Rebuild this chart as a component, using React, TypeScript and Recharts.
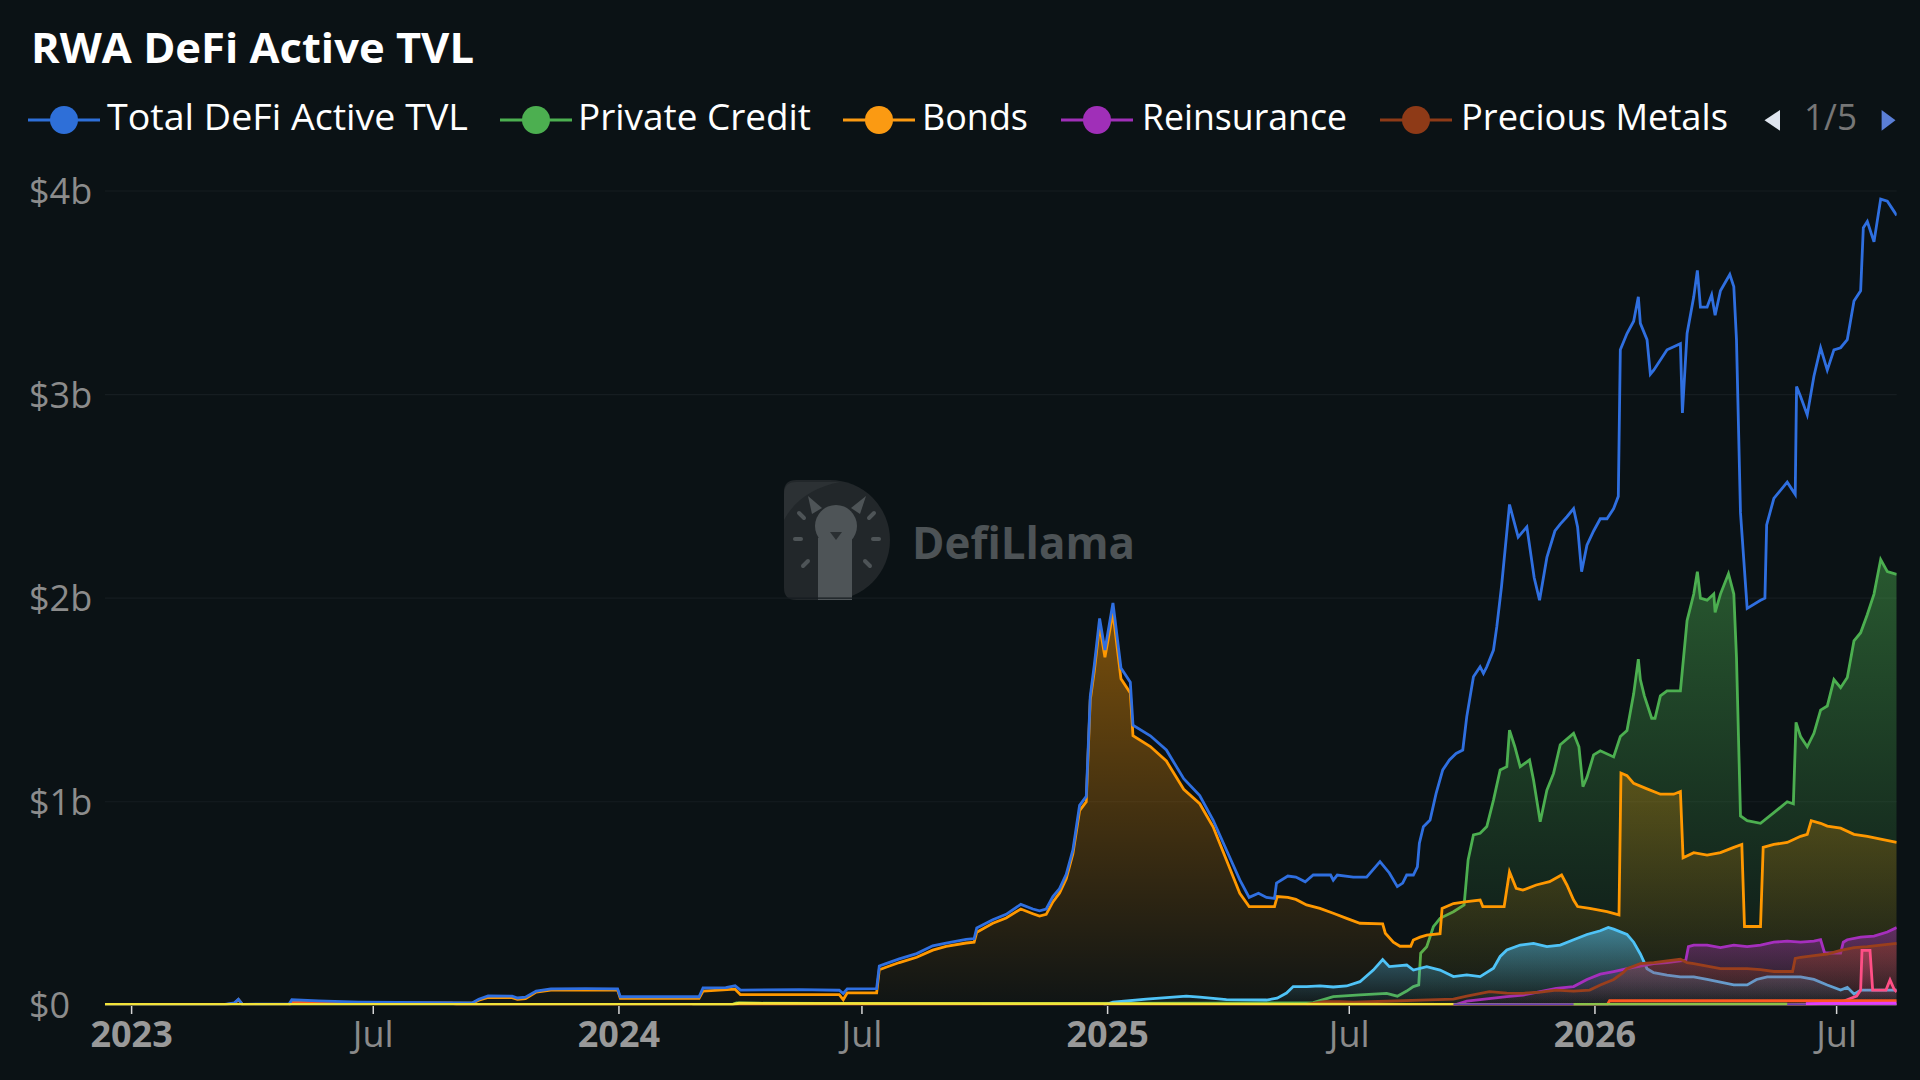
import React from 'react';
import { ComposedChart, Area, Line, XAxis, YAxis, CartesianGrid } from 'recharts';

// points are [days since 2023-01-01, value in $b]
type Pt = [number, number];

const totalTvl: Pt[] = [
  [-20, 0.003], [70, 0.004], [77, 0.012], [80, 0.03], [83, 0.005], [118, 0.006], [120, 0.027], [140, 0.022],
  [170, 0.016], [200, 0.014], [255, 0.012], [260, 0.03], [267, 0.046], [285, 0.045], [289, 0.036], [295, 0.04],
  [303, 0.07], [314, 0.081], [340, 0.082], [364, 0.081], [366, 0.042], [425, 0.042], [428, 0.085], [445, 0.087],
  [452, 0.096], [456, 0.075], [500, 0.077], [530, 0.074], [533, 0.058], [536, 0.081], [558, 0.082], [560, 0.193],
  [565, 0.205], [575, 0.228], [588, 0.254], [600, 0.292], [610, 0.306], [625, 0.324], [631, 0.327], [633, 0.38],
  [645, 0.42], [655, 0.447], [666, 0.496], [675, 0.473], [680, 0.464], [685, 0.473], [690, 0.534], [695, 0.573],
  [700, 0.643], [705, 0.763], [710, 0.982], [715, 1.026], [718, 1.517], [721, 1.67], [725, 1.9], [729, 1.745],
  [735, 1.976], [741, 1.657], [748, 1.587], [750, 1.376], [763, 1.324], [775, 1.254], [788, 1.113], [800, 1.03],
  [810, 0.91], [820, 0.763], [830, 0.616], [837, 0.53], [844, 0.55], [850, 0.53], [856, 0.525], [857.5, 0.6],
  [866, 0.635], [872, 0.63], [879, 0.607], [885, 0.64], [898, 0.64], [900, 0.615], [903, 0.64], [915, 0.63],
  [925, 0.63], [935, 0.706], [942, 0.65], [948, 0.583], [952, 0.6], [955, 0.64], [960, 0.64], [963, 0.68],
  [964.5, 0.796], [967.5, 0.877], [972.5, 0.91], [977, 1.04], [982, 1.156], [987, 1.205], [992, 1.237], [997, 1.254],
  [1000, 1.418], [1005, 1.614], [1010, 1.663], [1012.5, 1.63], [1015, 1.663], [1020, 1.745], [1022.5, 1.86],
  [1026, 2.056], [1032, 2.46], [1038.5, 2.3], [1045, 2.35], [1050.5, 2.1], [1054.5, 1.99], [1060, 2.2], [1066, 2.33],
  [1070, 2.364], [1075, 2.4], [1080, 2.44], [1083, 2.35], [1086, 2.13], [1090, 2.26], [1095, 2.33], [1100, 2.39],
  [1105, 2.39], [1110, 2.44], [1113.5, 2.5], [1115, 3.22], [1120, 3.3], [1125, 3.36], [1128.5, 3.48], [1130, 3.35],
  [1135, 3.27], [1137.5, 3.1], [1140, 3.12], [1150, 3.22], [1160, 3.25], [1161.5, 2.91], [1165, 3.3], [1170, 3.48],
  [1172.7, 3.61], [1175, 3.43], [1180, 3.43], [1183.4, 3.49], [1186, 3.39], [1190, 3.51], [1197, 3.59], [1200, 3.53],
  [1202, 3.27], [1205, 2.42], [1210, 1.95], [1220, 1.99], [1223.3, 2.0], [1224.6, 2.36], [1230, 2.49], [1240, 2.57],
  [1246, 2.51], [1247, 3.04], [1250, 2.99], [1255, 2.9], [1260, 3.09], [1265, 3.23], [1270, 3.12], [1275, 3.22],
  [1280, 3.23], [1285, 3.27], [1290, 3.46], [1295, 3.51], [1297, 3.82], [1300, 3.85], [1305, 3.75], [1310, 3.96],
  [1315, 3.95], [1320, 3.9], [1322, 3.88],
];

const privateCredit: Pt[] = [
  [420, 0.0], [450, 0.004], [453, 0.012], [470, 0.01], [560, 0.008], [700, 0.009], [800, 0.01], [880, 0.012],
  [885, 0.013], [900, 0.043], [920, 0.051], [940, 0.059], [948, 0.045], [955, 0.07], [960, 0.092], [964, 0.1],
  [965.5, 0.256], [970, 0.288], [975, 0.386], [980, 0.427], [990, 0.46], [998, 0.493], [1001, 0.714], [1005, 0.837],
  [1010, 0.845], [1015, 0.878], [1020, 1.008], [1025, 1.156], [1030, 1.172], [1032, 1.352], [1036, 1.27],
  [1040, 1.172], [1047, 1.205], [1050, 1.107], [1055, 0.902], [1060, 1.057], [1065, 1.139], [1070, 1.28],
  [1080, 1.336], [1084, 1.27], [1087, 1.074], [1090, 1.12], [1095, 1.23], [1100, 1.25], [1110, 1.22], [1115, 1.32],
  [1120, 1.35], [1125, 1.53], [1128.5, 1.7], [1130, 1.6], [1133, 1.52], [1138.5, 1.41], [1141, 1.41], [1145, 1.52],
  [1150, 1.545], [1160, 1.545], [1165, 1.89], [1170, 2.02], [1172.7, 2.13], [1175, 2.0], [1180, 1.99], [1185, 2.02],
  [1186, 1.93], [1190, 2.02], [1196, 2.12], [1200, 2.02], [1202, 1.71], [1205, 0.93], [1210, 0.907], [1220, 0.894],
  [1230, 0.946], [1240, 1.0], [1244.6, 0.99], [1246.6, 1.39], [1250, 1.32], [1255, 1.27], [1260, 1.336],
  [1265, 1.45], [1270, 1.47], [1275, 1.6], [1280, 1.56], [1285, 1.61], [1290, 1.79], [1295, 1.83], [1300, 1.92],
  [1305, 2.02], [1310, 2.19], [1315, 2.13], [1322, 2.117],
];

const bonds: Pt[] = [
  [-20, 0.002], [70, 0.003], [77, 0.01], [80, 0.028], [83, 0.004], [118, 0.005], [120, 0.018], [140, 0.015],
  [170, 0.012], [200, 0.011], [255, 0.01], [260, 0.025], [267, 0.039], [285, 0.038], [289, 0.029], [295, 0.033],
  [303, 0.065], [314, 0.075], [364, 0.075], [366, 0.034], [425, 0.034], [428, 0.07], [452, 0.079], [456, 0.052],
  [530, 0.052], [533, 0.027], [536, 0.061], [558, 0.061], [560, 0.175], [565, 0.187], [575, 0.21], [588, 0.236],
  [600, 0.271], [610, 0.289], [625, 0.306], [631, 0.31], [633, 0.359], [645, 0.403], [655, 0.429], [666, 0.473],
  [675, 0.45], [680, 0.438], [685, 0.447], [690, 0.508], [695, 0.552], [700, 0.622], [705, 0.745], [710, 0.956],
  [715, 1.0], [718, 1.5], [721, 1.64], [725, 1.867], [729, 1.71], [735, 1.929], [741, 1.604], [748, 1.534],
  [750, 1.324], [763, 1.271], [775, 1.2], [788, 1.061], [800, 0.99], [810, 0.877], [820, 0.714], [830, 0.55],
  [837, 0.485], [856, 0.485], [858, 0.534], [866, 0.53], [872, 0.52], [880, 0.493], [890, 0.476], [900, 0.452],
  [910, 0.427], [920, 0.403], [937, 0.4], [939, 0.354], [945, 0.31], [950, 0.29], [958, 0.29], [960, 0.321],
  [965, 0.335], [970, 0.345], [980, 0.352], [981.5, 0.476], [990, 0.5], [1000, 0.509], [1010, 0.517], [1012, 0.485],
  [1028, 0.485], [1032, 0.656], [1037, 0.575], [1042, 0.566], [1052, 0.591], [1062, 0.607], [1071, 0.64],
  [1075, 0.591], [1080, 0.517], [1083, 0.485], [1092, 0.476], [1105, 0.46], [1114, 0.444], [1115.5, 1.141],
  [1120, 1.128], [1125, 1.09], [1135, 1.063], [1145, 1.037], [1155, 1.037], [1160, 1.05], [1162, 0.725],
  [1170, 0.75], [1180, 0.738], [1190, 0.75], [1200, 0.776], [1206, 0.79], [1208, 0.387], [1220, 0.387],
  [1222, 0.776], [1230, 0.79], [1240, 0.8], [1250, 0.83], [1255, 0.84], [1258, 0.907], [1265, 0.894], [1270, 0.88],
  [1280, 0.87], [1290, 0.84], [1300, 0.83], [1310, 0.816], [1322, 0.8],
];

const reinsurance: Pt[] = [
  [990, 0.0], [1000, 0.02], [1030, 0.043], [1042, 0.05], [1055, 0.067], [1067, 0.083], [1080, 0.092],
  [1090, 0.127], [1100, 0.153], [1110, 0.166], [1120, 0.18], [1130, 0.192], [1140, 0.205], [1150, 0.21],
  [1160, 0.218], [1164, 0.22], [1166, 0.288], [1170, 0.296], [1180, 0.296], [1190, 0.283], [1200, 0.296],
  [1210, 0.288], [1220, 0.296], [1230, 0.31], [1240, 0.315], [1250, 0.31], [1260, 0.315], [1265, 0.322],
  [1268, 0.257], [1280, 0.257], [1282, 0.31], [1285, 0.322], [1295, 0.335], [1305, 0.34], [1315, 0.36],
  [1322, 0.382],
];

const preciousMetals: Pt[] = [
  [880, 0.005], [893, 0.018], [905, 0.018], [915, 0.015], [990, 0.03], [1000, 0.045], [1017, 0.067], [1030, 0.06],
  [1042, 0.059], [1055, 0.065], [1067, 0.075], [1080, 0.07], [1092, 0.075], [1100, 0.1], [1110, 0.127],
  [1117, 0.16], [1120, 0.18], [1130, 0.205], [1140, 0.21], [1150, 0.218], [1160, 0.226], [1165, 0.21],
  [1170, 0.205], [1180, 0.192], [1190, 0.18], [1210, 0.18], [1220, 0.175], [1230, 0.166], [1244, 0.166],
  [1246, 0.23], [1250, 0.236], [1260, 0.244], [1270, 0.252], [1280, 0.27], [1290, 0.283], [1300, 0.288],
  [1310, 0.296], [1322, 0.304],
];

// series from the hidden legend pages (2/5 .. 5/5), named by colour
const cyanSeries: Pt[] = [
  [728, 0.0], [735, 0.015], [760, 0.03], [790, 0.045], [800, 0.04], [820, 0.028], [850, 0.026], [858, 0.035],
  [865, 0.06], [870, 0.092], [880, 0.092], [890, 0.095], [900, 0.09], [910, 0.095], [920, 0.116], [930, 0.173],
  [937, 0.225], [942, 0.19], [950, 0.195], [955, 0.198], [960, 0.173], [970, 0.19], [980, 0.173], [990, 0.141],
  [1000, 0.149], [1010, 0.141], [1020, 0.182], [1025, 0.24], [1030, 0.272], [1040, 0.296], [1050, 0.304],
  [1060, 0.288], [1070, 0.296], [1080, 0.322], [1090, 0.348], [1100, 0.366], [1106, 0.382], [1110, 0.374],
  [1120, 0.348], [1125, 0.31], [1130, 0.252], [1135, 0.18], [1140, 0.16], [1150, 0.148], [1160, 0.14],
  [1170, 0.14], [1180, 0.127], [1190, 0.114], [1200, 0.1], [1210, 0.1], [1217, 0.127], [1225, 0.14], [1250, 0.14],
  [1260, 0.127], [1270, 0.1], [1280, 0.075], [1285, 0.088], [1290, 0.055], [1295, 0.075], [1322, 0.075],
];

const pinkSeries: Pt[] = [
  [1240, 0.0], [1270, 0.01], [1282, 0.02], [1292, 0.045], [1295, 0.075], [1296, 0.27], [1302, 0.27],
  [1304, 0.075], [1314, 0.075], [1317, 0.125], [1320, 0.08], [1322, 0.065],
];

const redSeries: Pt[] = [
  [118, 0.0], [120, 0.012], [240, 0.01], [245, 0.0], [1105, 0.0], [1107, 0.023], [1322, 0.023],
];

const yellowSeries: Pt[] = [
  [-20, 0.004], [450, 0.004], [455, 0.01], [720, 0.008], [990, 0.004], [1322, 0.002],
];

const indigoSeries: Pt[] = [[990, 0.003], [1322, 0.003]];
const magentaSeries: Pt[] = [[1254, 0.008], [1322, 0.01]];
const limeSeries: Pt[] = [[1080, 0.004], [1240, 0.006]];

const tickDays = [0, 181, 365, 547, 731, 912, 1096, 1277];
const tickLabels = ['2023', 'Jul', '2024', 'Jul', '2025', 'Jul', '2026', 'Jul'];
const yTicks = [0, 1, 2, 3, 4];

const FONT = '"Open Sans", "Noto Sans", sans-serif';

type S = { key: string; name: string; color: string; points: Pt[]; area: boolean; top?: number };

const series: S[] = [
  { key: 'total', name: 'Total DeFi Active TVL', color: '#2f6fe0', points: totalTvl, area: false },
  { key: 'pc', name: 'Private Credit', color: '#4caf50', points: privateCredit, area: true, top: 0.45 },
  { key: 'bonds', name: 'Bonds', color: '#ff9800', points: bonds, area: true, top: 0.45 },
  { key: 'cyan', name: 'cyan', color: '#4fc3f7', points: cyanSeries, area: true, top: 0.55 },
  { key: 'rein', name: 'Reinsurance', color: '#a52fbd', points: reinsurance, area: true, top: 0.45 },
  { key: 'pm', name: 'Precious Metals', color: '#9a3f1c', points: preciousMetals, area: true, top: 0.45 },
  { key: 'pink', name: 'pink', color: '#ff4f86', points: pinkSeries, area: true, top: 0.35 },
  { key: 'red', name: 'red', color: '#ff5722', points: redSeries, area: true, top: 0.5 },
  { key: 'yellow', name: 'yellow', color: '#f2e33a', points: yellowSeries, area: false },
  { key: 'indigo', name: 'indigo', color: '#6a3fb5', points: indigoSeries, area: false },
  { key: 'lime', name: 'lime', color: '#8bc34a', points: limeSeries, area: false },
  { key: 'magenta', name: 'magenta', color: '#e040fb', points: magentaSeries, area: false },
];

const legendItems = [
  { name: 'Total DeFi Active TVL', color: '#2e6fd8', icon: 28, text: 107, w: 361 },
  { name: 'Private Credit', color: '#4caf50', icon: 500, text: 578, w: 233 },
  { name: 'Bonds', color: '#fb9a12', icon: 843, text: 922, w: 106 },
  { name: 'Reinsurance', color: '#a02fb8', icon: 1061, text: 1142, w: 205 },
  { name: 'Precious Metals', color: '#8e3a17', icon: 1380, text: 1461, w: 267 },
];

function buildRows() {
  const map = new Map<number, any>();
  for (const s of series) {
    for (const [d, v] of s.points) {
      if (!map.has(d)) map.set(d, { day: d });
      map.get(d)[s.key] = v * 1e9;
    }
  }
  return Array.from(map.values()).sort((a, b) => a.day - b.day);
}

const rows = buildRows();

const YTick = (props: any) => {
  const { y, payload } = props;
  const v = payload.value / 1e9;
  return (
    <text x={29} y={y} dy={13} fill="#8c8c8c" fontSize={36} fontFamily={FONT}>
      {v === 0 ? '$0' : `$${v}b`}
    </text>
  );
};

const XTick = (props: any) => {
  const { x, payload } = props;
  const label = tickLabels[tickDays.indexOf(payload.value)];
  const isYear = label !== 'Jul';
  return (
    <g>
      <line x1={x} x2={x} y1={1006} y2={1014} stroke="#d6d6d6" strokeWidth={1.5} />
      <text
        x={x}
        y={1047}
        textAnchor="middle"
        fontSize={36}
        fontWeight={isYear ? 700 : 400}
        fill={isYear ? '#999999' : '#8a8a8a'}
        fontFamily={FONT}
      >
        {label}
      </text>
    </g>
  );
};

const Watermark = () => (
  <svg width={1920} height={1080} style={{ position: 'absolute', left: 0, top: 0 }}>
    <path d="M796 480 H830 A60 60 0 0 1 830 600 H796 Q784 600 784 588 V492 Q784 480 796 480 Z" fill="#22272a" />
    <path d="M784 520 Q800 490 840 482 H796 Q784 482 784 494 Z" fill="#2c3134" />
    <path d="M812 514 L808 496 L822 508 Z" fill="#4e5457" />
    <path d="M860 514 L866 496 L851 508 Z" fill="#4e5457" />
    <ellipse cx={836} cy={526} rx={21} ry={21} fill="#4e5457" />
    <rect x={818} y={538} width={34} height={62} fill="#4e5457" />
    <path d="M830 532 L842 532 L836 540 Z" fill="#2a2f32" />
    <g stroke="#4e5457" strokeWidth={4} strokeLinecap="round">
      <line x1={799} y1={513} x2={804} y2={518} />
      <line x1={795} y1={539} x2={801} y2={539} />
      <line x1={803} y1={566} x2={808} y2={561} />
      <line x1={874} y1={513} x2={869} y2={518} />
      <line x1={879} y1={539} x2={873} y2={539} />
      <line x1={870} y1={566} x2={865} y2={561} />
    </g>
    <text x={912} y={559} fontSize={44} fontWeight={700} fill="#4d5356" fontFamily={FONT} textLength={223} lengthAdjust="spacingAndGlyphs">
      DefiLlama
    </text>
  </svg>
);

const Header = () => (
  <svg width={1920} height={180} style={{ position: 'absolute', left: 0, top: 0 }}>
    <text x={31} y={63} fontSize={41} fontWeight={700} fill="#ffffff" fontFamily={FONT} textLength={443} lengthAdjust="spacingAndGlyphs">
      RWA DeFi Active TVL
    </text>
    {legendItems.map((it) => (
      <g key={it.name}>
        <line x1={it.icon} x2={it.icon + 72} y1={120} y2={120} stroke={it.color} strokeWidth={3} />
        <circle cx={it.icon + 36} cy={120} r={14} fill={it.color} />
        <text x={it.text} y={130} fontSize={37} fill="#ffffff" fontFamily={FONT} textLength={it.w} lengthAdjust="spacingAndGlyphs">
          {it.name}
        </text>
      </g>
    ))}
    <path d="M1780 110 L1764.5 120.3 L1780 130.7 Z" fill="#dfe5ee" />
    <text x={1804} y={130} fontSize={37} fill="#767676" fontFamily={FONT} textLength={53} lengthAdjust="spacingAndGlyphs">
      1/5
    </text>
    <path d="M1881.6 110 L1895.5 120.3 L1881.6 130.7 Z" fill="#5b7fd6" />
  </svg>
);

export default function App() {
  return (
    <div style={{ position: 'relative', width: 1920, height: 1080, background: '#0b1215', overflow: 'hidden' }}>
      <style>{'body{margin:0;background:#0b1215}'}</style>
      <Watermark />
      <div style={{ position: 'absolute', left: 0, top: 0 }}>
        <ComposedChart width={1920} height={1080} data={rows} margin={{ top: 191, right: 23.3, bottom: 0, left: 0 }}>
          <defs>
            {series.filter((s) => s.area).map((s) => (
              <linearGradient key={s.key} id={`g-${s.key}`} x1="0" y1="0" x2="0" y2="1">
                <stop offset="0%" stopColor={s.color} stopOpacity={s.top} />
                <stop offset="100%" stopColor={s.color} stopOpacity={0.02} />
              </linearGradient>
            ))}
          </defs>
          <CartesianGrid vertical={false} stroke="#161d21" strokeWidth={1.2} />
          <XAxis
            type="number"
            dataKey="day"
            domain={[-20, 1322]}
            ticks={tickDays}
            interval={0}
            height={74.7}
            axisLine={false}
            tickLine={false}
            tick={<XTick />}
            allowDataOverflow
          />
          <YAxis
            domain={[0, 4e9]}
            ticks={yTicks.map((t) => t * 1e9)}
            interval={0}
            width={104.9}
            axisLine={false}
            tickLine={false}
            tick={<YTick />}
            allowDataOverflow
          />
          {series.map((s) =>
            s.area ? (
              <Area
                key={s.key}
                type="linear"
                dataKey={s.key}
                name={s.name}
                stroke={s.color}
                strokeWidth={2.8}
                fill={`url(#g-${s.key})`}
                fillOpacity={1}
                connectNulls
                dot={false}
                activeDot={false}
                isAnimationActive={false}
              />
            ) : (
              <Line
                key={s.key}
                type="linear"
                dataKey={s.key}
                name={s.name}
                stroke={s.color}
                strokeWidth={2.8}
                connectNulls
                dot={false}
                activeDot={false}
                isAnimationActive={false}
              />
            )
          )}
        </ComposedChart>
      </div>
      <Header />
    </div>
  );
}
